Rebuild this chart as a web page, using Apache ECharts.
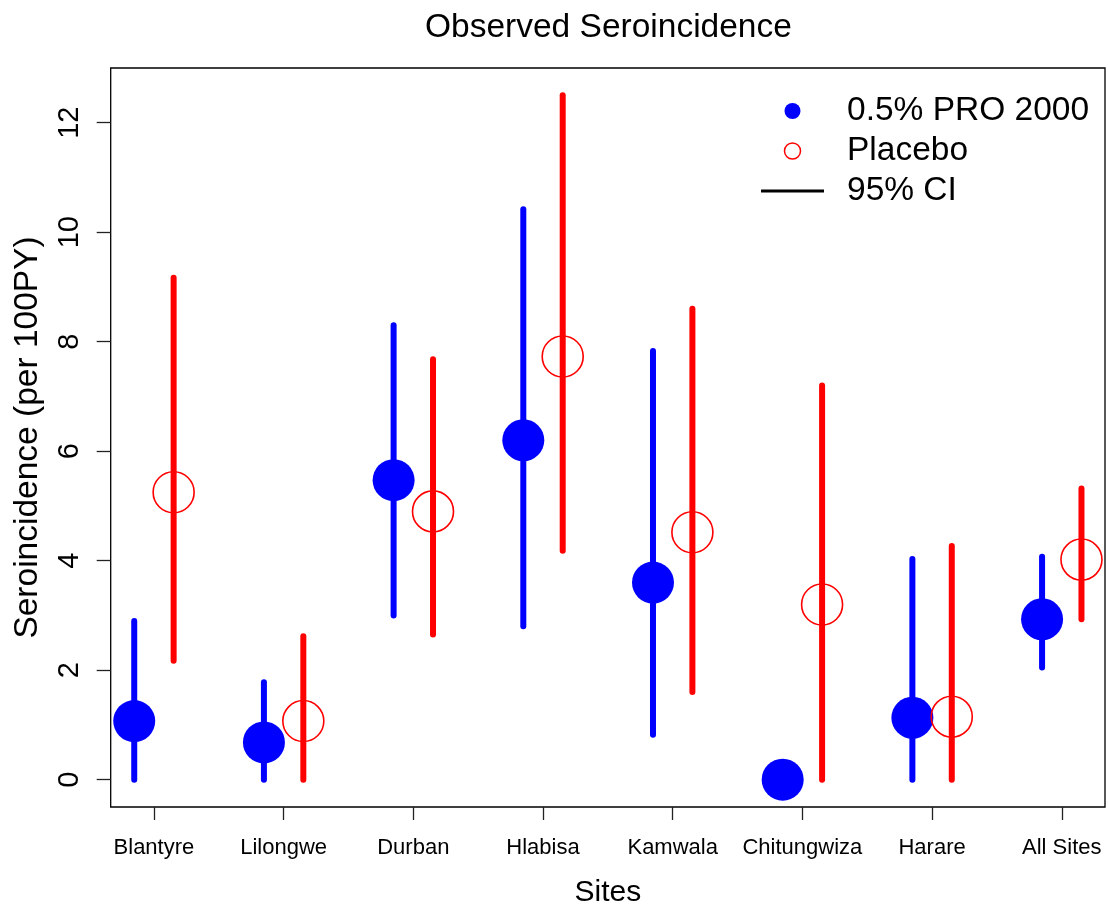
<!DOCTYPE html>
<html>
<head>
<meta charset="utf-8">
<script src="https://cdn.jsdelivr.net/npm/echarts@6/dist/echarts.min.js"></script>
<style>html,body{margin:0;padding:0;background:#fff}#c{width:1108px;height:911px}</style>
</head>
<body>
<div id="c"></div>
<script>
var sites = ['Blantyre', 'Lilongwe', 'Durban', 'Hlabisa', 'Kamwala', 'Chitungwiza', 'Harare', 'All Sites'];
var proEst = [1.07, 0.68, 5.47, 6.20, 3.60, 0.00, 1.13, 2.93];
var proLo  = [0.00, 0.00, 3.00, 2.80, 0.82, 0.00, 0.00, 2.05];
var proHi  = [2.90, 1.78, 8.30, 10.42, 7.83, 0.00, 4.03, 4.07];
var plaEst = [5.25, 1.07, 4.90, 7.73, 4.52, 3.20, 1.15, 4.02];
var plaLo  = [2.17, 0.00, 2.65, 4.18, 1.60, 0.00, 0.00, 2.93];
var plaHi  = [9.17, 2.62, 7.68, 12.50, 8.60, 7.20, 4.27, 5.32];
var yTicks = [0, 2, 4, 6, 8, 10, 12];

var FONT = '"Liberation Sans", Arial, Helvetica, sans-serif';
var BLUE = '#0000FF', RED = '#FF0000';
var DODGE = 19.7;
var xPos = sites.map(function (s, i) { return i + 1; });

function ciData(lo, hi) { return xPos.map(function (x, i) { return [x, lo[i], hi[i]]; }); }
function ptData(est) { return xPos.map(function (x, i) { return [x, est[i]]; }); }

function ciRender(color, off) {
  return function (params, api) {
    var a = api.coord([api.value(0), api.value(1)]);
    var b = api.coord([api.value(0), api.value(2)]);
    return {
      type: 'line',
      shape: { x1: a[0] + off, y1: a[1], x2: b[0] + off, y2: b[1] },
      style: { stroke: color, lineWidth: 6, lineCap: 'round' }
    };
  };
}

var chart = echarts.init(document.getElementById('c'), null, { renderer: 'canvas' });
chart.setOption({
  animation: false,
  backgroundColor: '#fff',
  textStyle: { fontFamily: FONT },
  title: {
    text: 'Observed Seroincidence',
    left: 420, top: 6,
    textStyle: { fontFamily: FONT, fontSize: 33.5, fontWeight: 'normal', color: '#000' }
  },
  grid: {
    left: 110.7, right: 3, top: 68, bottom: 104,
    show: true, borderColor: '#000', borderWidth: 1.3, backgroundColor: 'transparent',
    containLabel: false, outerBoundsMode: 'none'
  },
  legend: {
    orient: 'vertical', left: 756, top: 86,
    itemWidth: 63, itemHeight: 16, itemGap: 0,
    selectedMode: false,
    textStyle: { fontFamily: FONT, fontSize: 33.5, color: '#000', lineHeight: 40, padding: [0, 0, 0, 18] },
    data: [
      { name: '0.5% PRO 2000', icon: 'circle', itemStyle: { color: BLUE, borderWidth: 0 } },
      { name: 'Placebo', icon: 'circle', itemStyle: { color: 'rgba(0,0,0,0)', borderColor: RED, borderWidth: 1.5 } },
      { name: '95% CI', icon: 'path://M0,0 L63,0 L63,3 L0,3 Z', itemStyle: { color: '#000', borderWidth: 0 } }
    ]
  },
  xAxis: {
    type: 'value', min: 2 / 3, max: 25 / 3,
    name: 'Sites', nameLocation: 'middle', nameGap: 71,
    nameTextStyle: { fontFamily: FONT, fontSize: 30, color: '#000' },
    axisLine: { show: false, onZero: false },
    splitLine: { show: false },
    axisTick: { show: true, length: 13, customValues: xPos, lineStyle: { color: '#222', width: 1.3 } },
    axisLabel: {
      customValues: xPos, margin: 30,
      fontFamily: FONT, fontSize: 22, color: '#000',
      formatter: function (v) { return sites[Math.round(v) - 1] || ''; }
    }
  },
  yAxis: {
    type: 'value', min: -0.5, max: 13,
    name: 'Seroincidence (per 100PY)', nameLocation: 'middle', nameGap: 66, nameRotate: 90,
    nameTextStyle: { fontFamily: FONT, fontSize: 33.5, color: '#000' },
    axisLine: { show: false, onZero: false },
    splitLine: { show: false },
    axisTick: { show: true, length: 14, customValues: yTicks, lineStyle: { color: '#222', width: 1.3 } },
    axisLabel: {
      customValues: yTicks, rotate: 90, margin: 26,
      fontFamily: FONT, fontSize: 29, color: '#000'
    }
  },
  series: [
    {
      name: 'ciPro', type: 'custom', renderItem: ciRender(BLUE, -DODGE),
      data: ciData(proLo, proHi), encode: { x: 0, y: [1, 2] }, z: 2
    },
    {
      name: 'ciPla', type: 'custom', renderItem: ciRender(RED, DODGE),
      data: ciData(plaLo, plaHi), encode: { x: 0, y: [1, 2] }, z: 2
    },
    {
      name: '0.5% PRO 2000', type: 'scatter', data: ptData(proEst),
      symbol: 'circle', symbolSize: 42, symbolOffset: [-DODGE, 0],
      itemStyle: { color: BLUE, opacity: 1 }, z: 3
    },
    {
      name: 'Placebo', type: 'scatter', data: ptData(plaEst),
      symbol: 'circle', symbolSize: 41, symbolOffset: [DODGE, 0],
      itemStyle: { color: 'rgba(0,0,0,0)', borderColor: RED, borderWidth: 1.6, opacity: 1 }, z: 3
    },
    {
      name: '95% CI', type: 'line', data: [], symbol: 'none', showSymbol: false,
      lineStyle: { color: '#000', width: 3 }, itemStyle: { color: '#000' }
    }
  ]
});
</script>
</body>
</html>
